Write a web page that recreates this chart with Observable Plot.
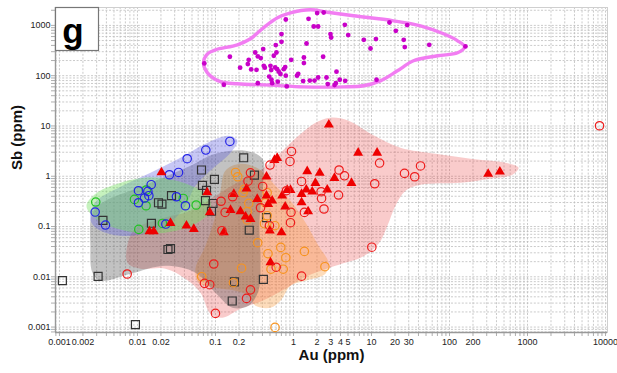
<!DOCTYPE html>
<html>
<head>
<meta charset="utf-8">
<script src="https://cdn.jsdelivr.net/npm/d3@7"></script>
<script src="https://cdn.jsdelivr.net/npm/@observablehq/plot@0.6"></script>
<style>
  body { margin: 0; background: #fff; }
  #chart svg { display: block; }
</style>
</head>
<body>
<div id="chart"></div>
<script>
// Au vs Sb (ppm), log–log scatter with group envelopes

const xTickLabels = [0.001, 0.002, 0.01, 0.02, 0.1, 0.2, 1, 2, 3, 4, 5, 10, 20, 30, 100, 200, 1000, 10000];
const yTickLabels = [0.001, 0.01, 0.1, 1, 10, 100, 1000];

// magenta group (filled dots)
const magentaAu = [0.072,0.128,0.153,0.207,0.26,0.267,0.287,0.323,0.336,0.349,0.349,0.381,0.409,0.416,0.429,0.488,0.507,0.518,0.522,0.533,0.559,0.582,0.593,0.605,0.618,0.629,0.648,0.681,0.702,0.702,0.751,0.783,0.797,0.797,0.82,0.935,1.11,1.15,1.33,1.36,1.36,1.47,1.56,1.62,1.82,1.86,2.01,2.07,2.07,2.44,2.98,3.04,4.55,5.03,2.40,2.65,2.75,3.36,3.49,3.56,3.92,4.60,7.97,9.71,11.4,11.6,17.0,20.5,25.9,26.7,28.7,55,160];
const magentaSb = [175,66,238,144,170,207,133,289,131,241,71,224,338,157,144,96,157,129,83,71,249,146,406,289,135,76,120,108,472,671,135,148,100,1310,61,207,100,109,78,230,178,437,1352,80,951,80,1757,951,92,1805,671,575,1028,641,238,92,68,65,71,120,83,79,517,347,534,83,1142,781,517,370,1014,411,381];

// blue open circles
const blueAu = [0.153,0.0752,0.0434,0.0336,0.0257,0.015,0.0103,0.0136,0.014,0.0123,0.0103,0.0316,0.0412,0.00287,0.00389,0.0231];
const blueSb = [4.92,3.32,2.23,1.19,1.07,0.678,0.515,0.499,0.41,0.369,0.297,0.391,0.259,0.194,0.107,0.112];

// green open circles
const greenAu = [0.00292,0.00916,0.013,0.0129,0.0104,0.0209,0.0386,0.0566];
const greenSb = [0.307,0.346,0.532,0.259,0.0876,0.115,0.362,0.268];

// black open squares
const squareAu = [0.00109,0.00313,0.00361,0.00942,0.0151,0.0186,0.0206,0.0246,0.0265,0.0273,0.0662,0.097,0.0681,0.0767,0.0745,0.0929,0.0889,0.23,0.316,0.451,0.271,0.175,0.411,0.164];
const squareSb = [0.00836,0.0102,0.133,0.00112,0.116,0.297,0.278,0.0349,0.0362,0.41,1.33,0.864,0.656,0.522,0.326,0.287,0.201,2.33,1.05,0.15,0.0844,0.00792,0.00888,0.0033];

// red filled triangles
const triangleAu = [0.0203,0.01425,0.0162,0.0265,0.0425,0.0527,0.0783,0.0845,0.128,0.156,0.172,0.209,0.243,0.281,0.25,0.343,0.451,0.474,0.451,0.571,0.618,0.497,0.507,0.533,0.716,0.702,0.783,0.83,0.915,1.27,1.27,1.46,1.74,1.54,1.5,1.91,2.17,2.71,3.35,5.54,2.84,6.75,11.8,313,442];
const triangleSb = [1.19,0.0799,0.0799,0.1174,0.1037,0.0892,0.476,0.191,0.0763,0.213,0.443,0.2,0.157,0.141,0.564,0.352,0.41,0.28,0.977,2.1,2.3,0.0825,0.0193,0.326,0.41,0.0763,0.248,0.532,0.532,0.443,0.301,0.539,0.492,0.2,1.25,0.733,1.16,0.539,0.921,0.733,10.6,2.93,2.93,1.11,1.23];

// red open circles
const redAu = [0.00738,0.0951,0.0723,0.0845,0.1,0.25,0.281,0.118,0.166,0.133,0.121,0.281,0.261,0.378,0.5,0.943,0.902,0.403,0.492,0.6,1.27,1.27,0.813,0.929,0.915,1.38,2.26,2.29,2.46,3.84,4.51,3.78,11.0,12.7,26.5,35.8,42.5,10.1,8380];
const redSb = [0.01137,0.01796,0.0074,0.00697,0.00187,0.00372,0.0055,0.318,0.391,0.191,0.0825,1.17,0.796,0.236,1.67,3.11,1.97,0.627,0.1037,0.0155,0.0103,0.788,0.515,0.192,0.119,0.191,0.492,0.362,0.223,1.33,1.02,0.423,0.709,1.83,1.14,0.977,1.6,0.0388,10.1];

// orange open circles
const orangeAu = [0.181,0.193,0.235,0.226,0.267,0.255,0.255,0.46,0.437,0.46,0.425,0.577,0.348,0.687,0.797,0.471,0.738,0.515,0.216,0.0667,0.17,1.38,2.53,0.58];
const orangeSb = [1.19,0.977,0.552,0.47,0.288,0.197,0.135,0.47,0.297,0.164,0.1137,0.1037,0.0476,0.0384,0.024,0.0288,0.01416,0.01416,0.01483,0.01005,0.00763,0.032,0.01588,0.000986];

// envelope outlines (closed curves)
const magentaHullAu = [0.0703,0.0789,0.1,0.191,0.281,0.412,0.624,0.915,1.65,2.73,5.88,19.1,42.5,83.8,127,156,127,70.2,34.5,21.5,13.0,7.89,4.38,1.34,0.507,0.191,0.116,0.0789];
const magentaHullSb = [180,272,327,411,542,896,1416,1780,2043,1822,1552,1234,982,681,494,375,285,249,198,125,79,63,60,60,65,69,76,114];

const blueHullAu = [0.00249,0.00298,0.00605,0.0147,0.0356,0.0745,0.147,0.191,0.156,0.0916,0.0554,0.0412,0.0265,0.0147,0.00605,0.00336,0.00257];
const blueHullSb = [0.188,0.326,0.618,1.17,2.33,4.43,6.38,5.08,2.93,1.41,0.647,0.259,0.119,0.0753,0.0656,0.0826,0.119];

const greenHullAu = [0.00222,0.0029,0.00554,0.0119,0.0243,0.0522,0.0813,0.0863,0.0643,0.0389,0.0147,0.00554,0.00273];
const greenHullSb = [0.259,0.449,0.709,0.934,0.892,0.618,0.391,0.206,0.130,0.0904,0.0719,0.0904,0.157];

const grayHullAu = [0.00265,0.00389,0.00813,0.0197,0.0478,0.1,0.243,0.401,0.412,0.367,0.378,0.356,0.265,0.165,0.1,0.0554,0.0229,0.00813,0.00336,0.00265,0.00249];
const grayHullSb = [0.188,0.326,0.515,0.892,1.62,2.80,3.21,2.23,0.814,0.130,0.0209,0.0053,0.00266,0.00243,0.00483,0.0121,0.0166,0.0115,0.00836,0.0121,0.0415];

const redHullAu = [0.00767,0.00942,0.0197,0.0478,0.1,0.209,0.401,0.681,1.16,1.91,2.98,5.07,10.3,23.5,66.2,186,522,767,642,336,138,42.5,27.3,20.3,16.0,12.3,7.67,3.45,1.43,0.789,0.401,0.209,0.123,0.0863,0.0643,0.0412,0.0229,0.0109,0.00744];
const redHullSb = [0.0522,0.0904,0.143,0.206,0.41,0.814,1.41,2.93,6.38,11.6,14.6,12.7,6.68,3.69,2.80,2.23,1.85,1.48,1.07,0.892,0.743,0.678,0.515,0.259,0.104,0.0455,0.0251,0.0166,0.01,0.0058,0.00335,0.00232,0.00154,0.00185,0.00483,0.00916,0.0145,0.0145,0.0191];

const orangeHullAu = [0.134,0.209,0.356,0.588,0.915,1.43,2.09,2.81,2.57,1.43,0.915,0.681,0.507,0.326,0.265,0.181,0.1,0.0605,0.0554,0.0745,0.1,0.116];
const orangeHullSb = [1.29,1.77,1.41,0.647,0.326,0.119,0.0415,0.0191,0.0115,0.00836,0.00665,0.00335,0.00243,0.00266,0.0042,0.0053,0.00607,0.00763,0.0145,0.0415,0.164,0.515];

const pairs = (au, sb) => au.map((a, i) => ({au: a, sb: sb[i]}));

const xDomain = [0.00089, 10600];
const yDomain = [0.00078, 2270];

// minor log grid positions (1–9 × each decade)
const decadeGrid = (lo, hi) => {
  const out = [];
  for (let e = Math.floor(Math.log10(lo)); e <= Math.ceil(Math.log10(hi)); e++)
    for (let k = 1; k <= 9; k++) {
      const v = +(k * Math.pow(10, e)).toPrecision(3);
      if (v >= lo && v <= hi) out.push(v);
    }
  return out;
};
const gridAu = decadeGrid(xDomain[0], xDomain[1]);
const gridSb = decadeGrid(yDomain[0], yDomain[1]);

const W = 617, H = 373;
const mL = 55, mR = 10, mT = 7, mB = 41;
const frameW = W - mL - mR, frameH = H - mT - mB;

const hull = (au, sb, fill, opacity) =>
  Plot.line(pairs(au, sb), {x: "au", y: "sb", curve: "catmull-rom-closed", fill, fillOpacity: opacity, stroke: "none"});

const openDots = (au, sb, symbol, color, r) =>
  Plot.dot(pairs(au, sb), {x: "au", y: "sb", symbol, r, fill: "none", stroke: color, strokeWidth: 1.2});

const fmt = d => String(d);

const chart = Plot.plot({
  width: W, height: H,
  marginLeft: mL, marginRight: mR, marginTop: mT, marginBottom: mB,
  x: {type: "log", domain: xDomain, axis: null},
  y: {type: "log", domain: yDomain, axis: null},
  style: {fontFamily: "'Liberation Sans', Arial, sans-serif", fontSize: "9px", color: "#222", background: "#fff"},
  marks: [
    Plot.ruleX(gridAu, {stroke: "#bdbdbd", strokeDasharray: "2,1.6", strokeWidth: 0.8}),
    Plot.ruleY(gridSb, {stroke: "#bdbdbd", strokeDasharray: "2,1.6", strokeWidth: 0.8}),

    hull(redHullAu, redHullSb, "rgb(232,70,70)", 0.28),
    hull(orangeHullAu, orangeHullSb, "rgb(250,150,50)", 0.33),
    hull(grayHullAu, grayHullSb, "rgb(70,70,70)", 0.33),
    hull(blueHullAu, blueHullSb, "rgb(90,90,225)", 0.34),
    hull(greenHullAu, greenHullSb, "rgb(120,225,100)", 0.42),
    Plot.line(pairs(magentaHullAu, magentaHullSb), {x: "au", y: "sb", curve: "catmull-rom-closed", stroke: "rgb(242,125,242)", strokeWidth: 3.4, fill: "none"}),

    Plot.frame({stroke: "#cfcfcf"}),
    Plot.ruleX([xDomain[0]], {stroke: "#999", strokeWidth: 1.4}),
    Plot.ruleY([yDomain[0]], {stroke: "#999", strokeWidth: 1.4}),
    Plot.ruleX(gridAu, {insetTop: frameH, insetBottom: -4, stroke: "#999", strokeWidth: 0.8}),
    Plot.ruleY(gridSb, {insetRight: frameW, insetLeft: -4, stroke: "#999", strokeWidth: 0.8}),
    Plot.text(xTickLabels, {x: d => d, text: fmt, frameAnchor: "bottom", dy: 12, fill: "#222", fontSize: 9}),
    Plot.text(yTickLabels, {y: d => d, text: fmt, frameAnchor: "left", dx: -5, textAnchor: "end", fill: "#222", fontSize: 9}),

    Plot.dot(pairs(magentaAu, magentaSb), {x: "au", y: "sb", r: 2.4, fill: "rgb(200,0,200)", stroke: "none"}),
    openDots(squareAu, squareSb, "square", "#333", 4.5),
    openDots(greenAu, greenSb, "circle", "#22c322", 4.2),
    openDots(blueAu, blueSb, "circle", "#2323e6", 4.2),
    openDots(orangeAu, orangeSb, "circle", "#f7931e", 4.2),
    Plot.dot(pairs(triangleAu, triangleSb), {x: "au", y: "sb", symbol: "triangle", r: 3.7, fill: "#ee0000", stroke: "none"}),
    openDots(redAu, redSb, "circle", "#ee1c1c", 4.2),

    Plot.text(["Au (ppm)"], {frameAnchor: "bottom", dy: 27, fontSize: 15, fontWeight: "bold", fill: "#111"}),
    Plot.text(["Sb (ppm)"], {frameAnchor: "left", dx: -38, rotate: -90, fontSize: 15, fontWeight: "bold", fill: "#111"})
  ]
});

// panel letter in the top-left corner
const svg = d3.select(chart);
const tag = svg.append("g");
tag.append("rect").attr("x", 55.5).attr("y", 7.5).attr("width", 43).attr("height", 43)
  .attr("fill", "#fff").attr("stroke", "#777").attr("stroke-width", 1.2);
tag.append("text").attr("x", 73).attr("y", 42.5).attr("text-anchor", "middle")
  .attr("font-family", "'Liberation Sans', Arial, sans-serif").attr("font-weight", "bold")
  .attr("font-size", 35).attr("fill", "#000").text("g");

document.getElementById("chart").appendChild(chart);
</script>
</body>
</html>
